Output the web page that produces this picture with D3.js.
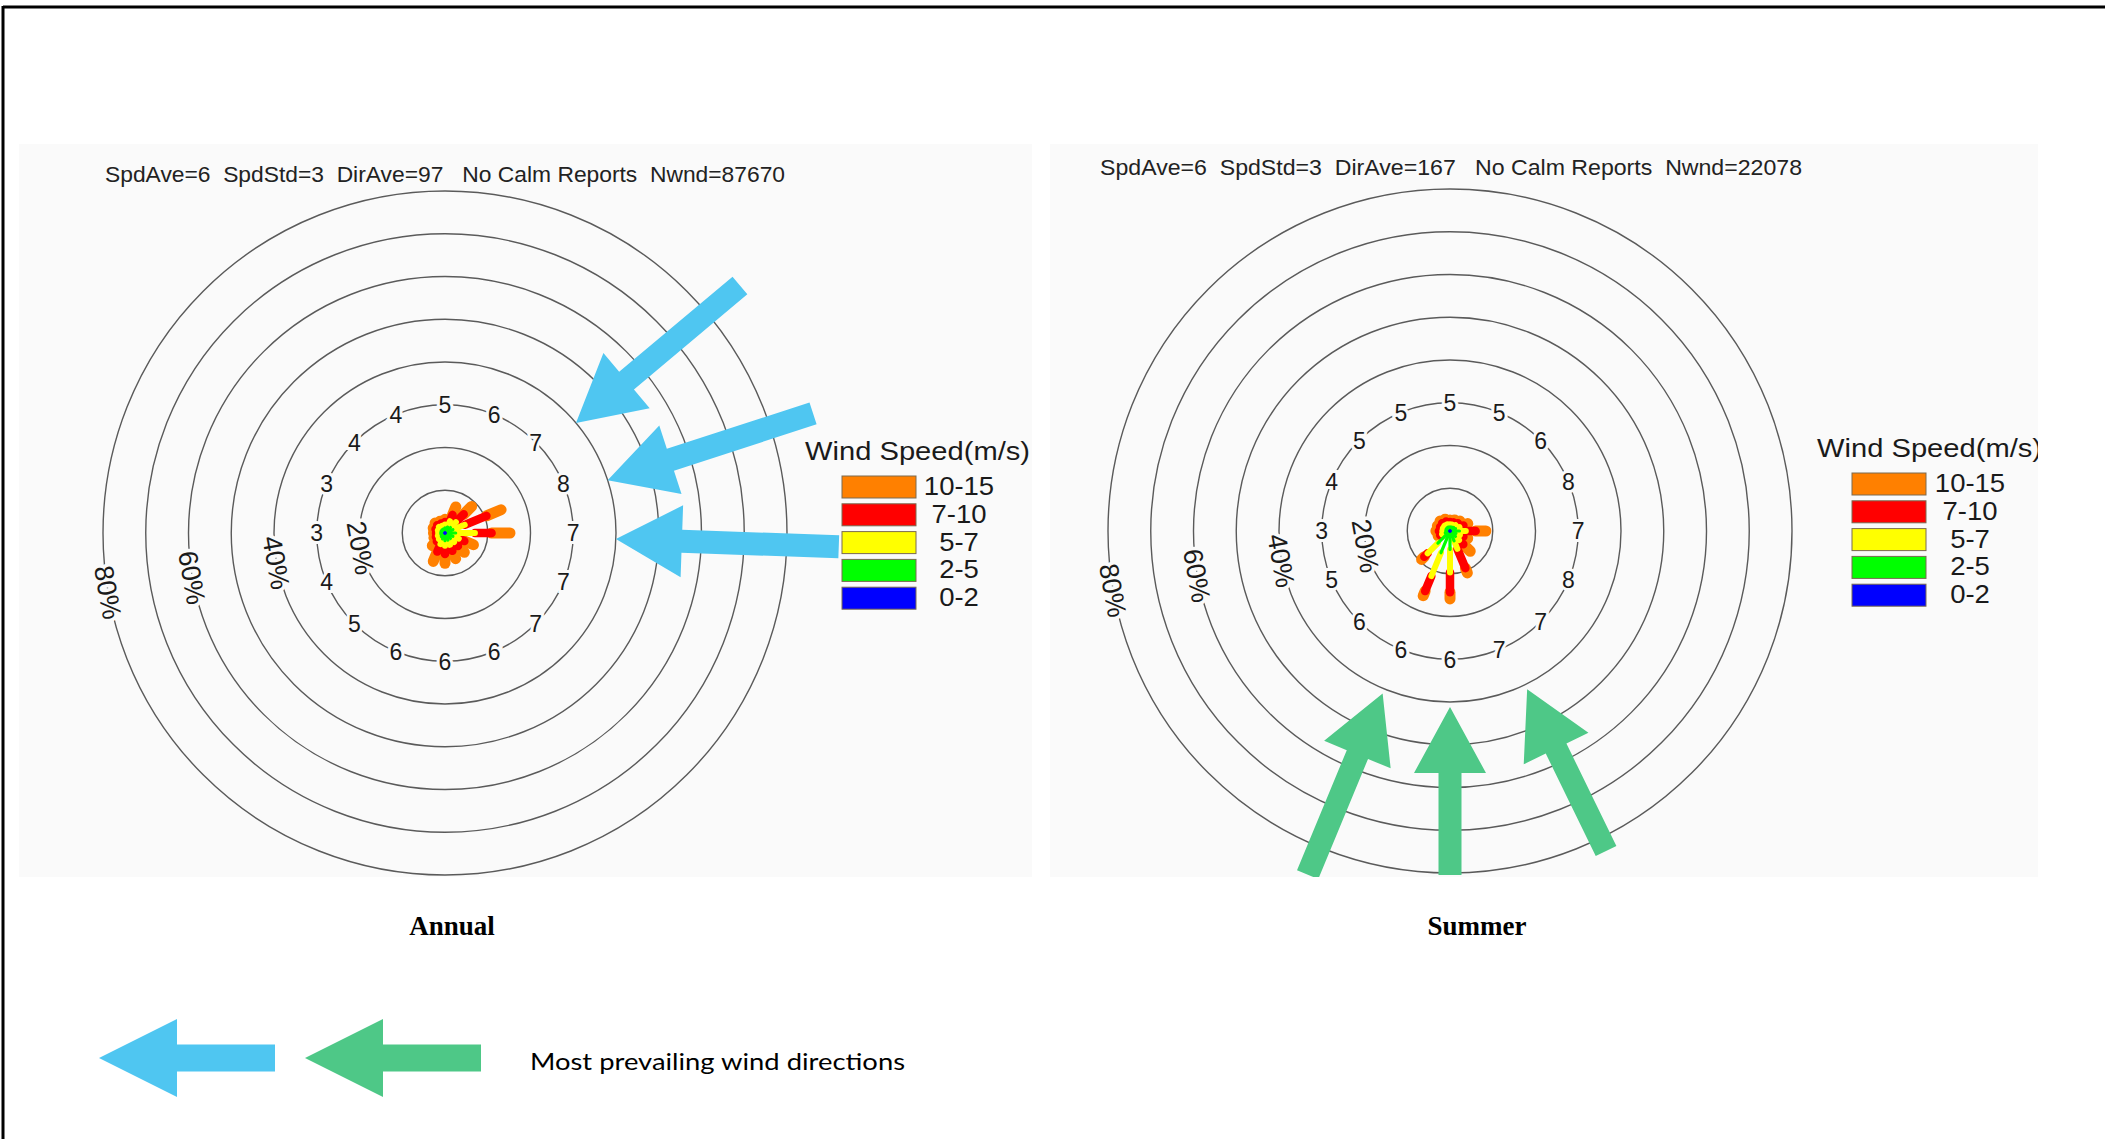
<!DOCTYPE html>
<html>
<head>
<meta charset="utf-8">
<script src="https://cdn.jsdelivr.net/npm/d3@7"></script>
<style>
  html, body { margin: 0; padding: 0; background: #ffffff; }
  svg { display: block; }
</style>
</head>
<body>
<script>
// ---- data -------------------------------------------------------------
const directions = ["N","NNE","NE","ENE","E","ESE","SE","SSE","S","SSW","SW","WSW","W","WNW","NW","NNW"];
const speedClasses = ["0-2","2-5","5-7","7-10","10-15"];
const classColors = ["#0000ff","#00ff00","#ffff00","#ff0000","#ff8000"];
const ringTicks = [10,20,30,40,50,60,70,80];
const ringLabelTicks = [20,40,60,80];

// Annual: frequency (%) of observations per direction, one array per speed class
const annual_0_2   = [0.2,0.2,0.2,0.2,0.2,0.2,0.2,0.2,0.2,0.2,0.2,0.2,0.2,0.2,0.2,0.2];
const annual_2_5   = [1.0,1.3,1.6,1.8,2.3,1.8,1.6,1.6,1.6,1.3,1.0,0.8,0.8,0.8,0.8,0.8];
const annual_5_7   = [0.8,1.5,1.8,3.0,4.5,1.5,1.2,1.2,1.2,1.3,0.8,0.8,0.6,0.8,1.0,0.8];
const annual_7_10  = [0.6,1.6,2.6,5.5,3.9,1.4,1.3,1.5,1.9,1.9,0.7,0.5,0.5,0.6,0.6,0.6];
const annual_10_15 = [0.6,2.0,2.6,3.7,4.3,2.3,2.1,2.0,2.2,2.5,1.5,0.5,0.6,0.6,0.7,0.6];
// Annual: mean speed (m/s) printed for each direction
const annualDirSpeed = [5,6,7,8,7,7,7,6,6,6,5,4,3,3,4,4];
const annualStats = "SpdAve=6  SpdStd=3  DirAve=97   No Calm Reports  Nwnd=87670";

// Summer: frequency (%) of observations per direction, one array per speed class
const summer_0_2   = [0.2,0.2,0.2,0.2,0.2,0.2,0.2,0.2,0.2,0.2,0.2,0.2,0.2,0.2,0.2,0.2];
const summer_2_5   = [0.8,0.8,1.0,1.2,2.0,1.3,1.6,2.3,4.1,5.3,3.8,1.0,0.8,0.8,0.8,0.8];
const summer_5_7   = [0.6,0.6,0.7,1.0,1.5,1.0,1.2,2.0,5.4,5.9,3.4,0.8,0.8,0.8,0.8,0.7];
const summer_7_10  = [0.5,0.6,0.7,1.0,2.3,0.9,1.4,4.9,4.6,3.8,1.1,0.5,0.8,0.7,0.8,0.7];
const summer_10_15 = [0.5,0.6,0.7,1.1,2.4,1.1,2.3,1.2,1.6,1.2,0.9,0.5,0.7,0.7,0.7,0.6];
// Summer: mean speed (m/s) printed for each direction
const summerDirSpeed = [5,5,6,8,7,8,7,7,6,6,6,5,3,4,5,5];
const summerStats = "SpdAve=6  SpdStd=3  DirAve=167   No Calm Reports  Nwnd=22078";

// Prevailing wind directions (degrees clockwise from north) marked with arrows
const annualPrevailing = [50, 72, 92];
const summerPrevailing = [202.5, 180, 154];

const panelTitles = ["Annual", "Summer"];
const noteText = "Most prevailing wind directions";

// ---- drawing ------------------------------------------------------------
const W = 2105, H = 1139;
const svg = d3.select("body").append("svg").attr("width", W).attr("height", H);

svg.append("rect").attr("width", W).attr("height", H).attr("fill", "#ffffff");

// page frame (top and left edges)
svg.append("line").attr("x1", 3).attr("y1", 7).attr("x2", W).attr("y2", 7)
  .attr("stroke", "#000").attr("stroke-width", 3);
svg.append("line").attr("x1", 3).attr("y1", 6).attr("x2", 3).attr("y2", H)
  .attr("stroke", "#000").attr("stroke-width", 3);

const rScale = d3.scaleLinear().domain([0, 80]).range([0, 342]);
const angleScale = d3.scaleLinear().domain([0, directions.length]).range([0, 360]);
const rad = a => a * Math.PI / 180;
const polar = (a, r) => [r * Math.sin(rad(a)), -r * Math.cos(rad(a))];

const classWidths = [1.6, 3.2, 6, 8.5, 11];
const fontSans = "'Liberation Sans', Arial, Helvetica, sans-serif";

const panels = [
  {
    key: "annual", rect: [19, 144, 1013, 733], cx: 445, cy: 533,
    classes: [annual_0_2, annual_2_5, annual_5_7, annual_7_10, annual_10_15],
    dirSpeed: annualDirSpeed, stats: annualStats, statsPos: [105, 182, 680],
    legend: { titleX: 805, titleY: 460, titleLen: 225, boxX: 842, boxY: 476, labelX: 959 },
    arrows: annualPrevailing, arrowTip: 171, arrowTail: [385, 387, 394],
    arrowColor: "#4fc6f1", title: panelTitles[0], titleX: 452
  },
  {
    key: "summer", rect: [1050, 144, 988, 733], cx: 1450, cy: 531,
    classes: [summer_0_2, summer_2_5, summer_5_7, summer_7_10, summer_10_15],
    dirSpeed: summerDirSpeed, stats: summerStats, statsPos: [1100, 175, 702],
    legend: { titleX: 1817, titleY: 457, titleLen: 225, boxX: 1852, boxY: 473, labelX: 1970 },
    arrows: summerPrevailing, arrowTip: 176, arrowTail: [372, 344, 356],
    arrowColor: "#4ec887", title: panelTitles[1], titleX: 1477
  }
];

// arrow outline pointing at the origin, body running along +x
function arrowPath(len, headLen, headHalf, shaftHalf) {
  return d3.line()([
    [0, 0], [headLen, -headHalf], [headLen, -shaftHalf], [len, -shaftHalf],
    [len, shaftHalf], [headLen, shaftHalf], [headLen, headHalf]
  ]) + "Z";
}

panels.forEach(p => {
  const [px, py, pw, ph] = p.rect;
  const clipId = "clip-" + p.key;
  svg.append("clipPath").attr("id", clipId)
    .append("rect").attr("x", px).attr("y", py).attr("width", pw).attr("height", ph);

  const panel = svg.append("g").attr("clip-path", `url(#${clipId})`);
  panel.append("rect").attr("x", px).attr("y", py).attr("width", pw).attr("height", ph)
    .attr("fill", "#fafafa");

  // summary line
  panel.append("text")
    .attr("x", p.statsPos[0]).attr("y", p.statsPos[1])
    .attr("textLength", p.statsPos[2]).attr("lengthAdjust", "spacingAndGlyphs")
    .style("white-space", "pre")
    .attr("font-family", fontSans).attr("font-size", 22).attr("fill", "#222")
    .text(p.stats);

  const g = panel.append("g").attr("transform", `translate(${p.cx},${p.cy})`);

  // concentric frequency rings
  g.selectAll("circle.ring").data(ringTicks).join("circle")
    .attr("class", "ring").attr("r", d => rScale(d))
    .attr("fill", "none").attr("stroke", "#5a5a5a").attr("stroke-width", 1.4);

  // percentage labels along the west side of the rings
  const labAngle = 260;
  g.selectAll("text.pct").data(ringLabelTicks).join("text")
    .attr("class", "pct")
    .attr("transform", d => {
      const [x, y] = polar(labAngle, rScale(d));
      return `translate(${x},${y}) rotate(${labAngle - 180})`;
    })
    .attr("text-anchor", "middle").attr("dy", "0.36em")
    .attr("font-family", fontSans).attr("font-size", 27).attr("fill", "#1a1a1a")
    .attr("stroke", "#fafafa").attr("stroke-width", 7).attr("paint-order", "stroke")
    .text(d => d + "%");

  // mean speed per direction on the 30% ring
  g.selectAll("text.dir").data(p.dirSpeed).join("text")
    .attr("class", "dir")
    .attr("x", (d, i) => polar(angleScale(i), rScale(30))[0])
    .attr("y", (d, i) => polar(angleScale(i), rScale(30))[1])
    .attr("text-anchor", "middle").attr("dy", "0.36em")
    .attr("font-family", fontSans).attr("font-size", 23).attr("fill", "#1a1a1a")
    .attr("stroke", "#fafafa").attr("stroke-width", 6).attr("paint-order", "stroke")
    .text(d => d);

  // petals: cumulative segments per direction, outer classes drawn first
  const cum = directions.map((dname, i) => {
    let acc = 0;
    return p.classes.map(arr => { const s = acc; acc += arr[i]; return [s, acc]; });
  });
  for (let k = speedClasses.length - 1; k >= 0; k--) {
    g.append("g").selectAll("line").data(directions).join("line")
      .attr("x1", (d, i) => polar(angleScale(i), rScale(cum[i][k][0]))[0])
      .attr("y1", (d, i) => polar(angleScale(i), rScale(cum[i][k][0]))[1])
      .attr("x2", (d, i) => polar(angleScale(i), rScale(cum[i][k][1]))[0])
      .attr("y2", (d, i) => polar(angleScale(i), rScale(cum[i][k][1]))[1])
      .attr("stroke", classColors[k]).attr("stroke-width", classWidths[k])
      .attr("stroke-linecap", "round");
  }

  // prevailing direction arrows
  g.selectAll("path.prev").data(p.arrows).join("path")
    .attr("class", "prev")
    .attr("transform", d => {
      const [x, y] = polar(d, p.arrowTip);
      return `translate(${x},${y}) rotate(${d - 90})`;
    })
    .attr("d", (d, i) => arrowPath(p.arrowTail[i] - p.arrowTip, 66, 36, 11.5))
    .attr("fill", p.arrowColor);

  // speed legend
  const L = p.legend;
  panel.append("text")
    .attr("x", L.titleX).attr("y", L.titleY)
    .attr("textLength", L.titleLen).attr("lengthAdjust", "spacingAndGlyphs")
    .attr("font-family", fontSans).attr("font-size", 26).attr("fill", "#1a1a1a")
    .text("Wind Speed(m/s)");
  const legendOrder = d3.range(speedClasses.length).reverse();
  const rowY = d3.scaleLinear().domain([0, 1]).range([L.boxY, L.boxY + 27.8]);
  const rows = panel.selectAll("g.legrow").data(legendOrder).join("g")
    .attr("class", "legrow");
  rows.append("rect")
    .attr("x", L.boxX).attr("y", (d, j) => rowY(j))
    .attr("width", 74).attr("height", 22)
    .attr("fill", d => classColors[d]).attr("stroke", "#7a6a50").attr("stroke-width", 1);
  rows.append("text")
    .attr("transform", (d, j) => `translate(${L.labelX},${rowY(j) + 19}) scale(1.1,1)`)
    .attr("text-anchor", "middle")
    .attr("font-family", fontSans).attr("font-size", 25).attr("fill", "#1a1a1a")
    .text(d => speedClasses[d]);

  // panel caption
  svg.append("text")
    .attr("x", p.titleX).attr("y", 935).attr("text-anchor", "middle")
    .attr("font-family", "'Liberation Serif', 'Times New Roman', serif")
    .attr("font-weight", "bold").attr("font-size", 27).attr("fill", "#000")
    .text(p.title);
});

// key for the arrows
const keyColors = ["#4fc6f1", "#4ec887"];
svg.selectAll("path.key").data(keyColors).join("path")
  .attr("class", "key")
  .attr("transform", (d, i) => `translate(${99 + i * 206},1058)`)
  .attr("d", arrowPath(176, 78, 39, 13.5))
  .attr("fill", d => d);
svg.append("text")
  .attr("x", 530).attr("y", 1070)
  .attr("textLength", 375).attr("lengthAdjust", "spacingAndGlyphs")
  .attr("font-family", "Lato, 'Open Sans', sans-serif").attr("font-size", 23).attr("fill", "#000")
  .text(noteText);
</script>
</body>
</html>
